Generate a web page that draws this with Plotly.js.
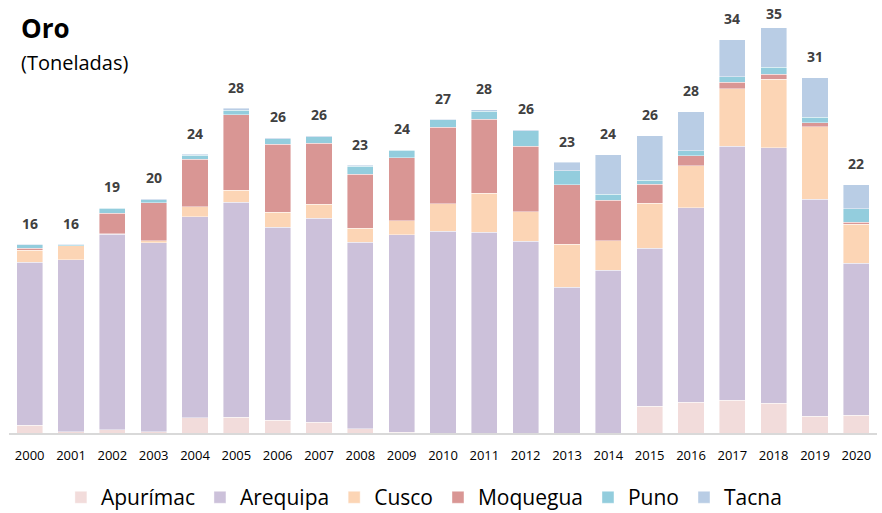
<!DOCTYPE html>
<html>
<head>
<meta charset="utf-8">
<script src="https://cdn.plot.ly/plotly-3.0.1.min.js"></script>
<style>html,body{margin:0;padding:0;background:#fff;}#chart{width:882px;height:513px;}</style>
</head>
<body>
<div id="chart"></div>
<script>
const years = ['2000','2001','2002','2003','2004','2005','2006','2007','2008','2009','2010','2011','2012','2013','2014','2015','2016','2017','2018','2019','2020'];
const apurimac = [0.65,0.13,0.3,0.13,1.31,1.37,1.11,0.93,0.36,0.05,0,0,0,0,0,2.32,2.64,2.81,2.58,1.43,1.54];
const arequipa = [14.1,14.84,16.87,16.3,17.37,18.56,16.68,17.63,16.13,17.1,17.44,17.36,16.58,12.6,14.07,13.66,16.85,21.98,22.07,18.78,13.14];
const cusco = [1.04,1.21,0.05,0.17,0.89,1.04,1.27,1.21,1.19,1.18,2.39,3.37,2.56,3.72,2.56,3.89,3.6,4.95,5.93,6.26,3.37];
const moquegua = [0.17,0,1.78,3.3,4.08,6.54,5.9,5.27,4.7,5.47,6.6,6.4,5.65,5.12,3.49,1.62,0.86,0.58,0.43,0.35,0.17];
const puno = [0.29,0.1,0.43,0.26,0.35,0.37,0.46,0.55,0.69,0.64,0.64,0.66,1.35,1.21,0.52,0.35,0.46,0.49,0.6,0.49,1.16];
const tacna = [0.05,0.03,0.05,0.09,0.09,0.17,0.11,0.09,0.09,0.05,0.05,0.15,0.05,0.75,3.4,3.86,3.37,3.2,3.4,3.4,2.08];
const totalLabels = [16,16,19,20,24,28,26,26,23,24,27,28,26,23,24,26,28,34,35,31,22];

const seriesNames = ['Apurímac','Arequipa','Cusco','Moquegua','Puno','Tacna'];
const seriesData = [apurimac, arequipa, cusco, moquegua, puno, tacna];
const seriesColors = ['#F2DCDB','#CCC1DA','#FCD5B5','#D99694','#93CDDD','#B9CDE5'];

const traces = seriesNames.map((name, i) => ({
  type: 'bar',
  name: name,
  x: years,
  y: seriesData[i],
  marker: {color: seriesColors[i], line: {color: 'rgba(255,255,255,0.7)', width: 0.6}},
  hoverinfo: 'x+y+name'
}));

const M = {l: 9, r: 5, t: 10, b: 80};
const H = 513;
const yMax = 36.56;
const plotH = H - M.t - M.b;

const stackTops = years.map((_, j) => seriesData.reduce((s, arr) => s + arr[j], 0));

const annotations = years.map((yr, j) => {
  const topPx = M.t + plotH * (1 - stackTops[j] / yMax);
  let shift = 21;
  if (topPx - shift < 14) shift = topPx - 14;
  return {
    x: j, y: stackTops[j], xref: 'x', yref: 'y',
    text: '<b>' + totalLabels[j] + '</b>',
    showarrow: false, yanchor: 'middle', yshift: shift,
    font: {family: 'Open Sans, sans-serif', size: 14, color: '#404040'}
  };
});

annotations.push({
  xref: 'paper', yref: 'paper', x: 0.011, y: 0.957, xanchor: 'left', yanchor: 'middle',
  text: '<b>Oro</b>', showarrow: false,
  font: {family: 'Open Sans, sans-serif', size: 26, color: '#000'}
});
annotations.push({
  xref: 'paper', yref: 'paper', x: 0.011, y: 0.877, xanchor: 'left', yanchor: 'middle',
  text: '(Toneladas)', showarrow: false,
  font: {family: 'Open Sans, sans-serif', size: 20, color: '#000'}
});

const layout = {
  width: 882, height: H,
  margin: M,
  paper_bgcolor: '#fff', plot_bgcolor: '#fff',
  barmode: 'stack',
  bargap: 0.37,
  showlegend: true,
  legend: {
    orientation: 'h', x: 0.478, xanchor: 'center',
    yref: 'container', y: 0.03, yanchor: 'middle',
    font: {family: 'Open Sans, sans-serif', size: 21, color: '#000'},
    traceorder: 'normal'
  },
  xaxis: {
    type: 'category', range: [-0.5, 20.5],
    showline: true, linecolor: '#D9D9D9', linewidth: 2,
    ticks: 'outside', ticklen: 9, tickcolor: 'rgba(0,0,0,0)',
    tickfont: {family: 'Open Sans, sans-serif', size: 13, color: '#000'},
    showgrid: false, zeroline: false, automargin: false
  },
  yaxis: {
    range: [0, yMax], visible: false, showgrid: false, zeroline: false
  },
  annotations: annotations
};

Plotly.newPlot('chart', traces, layout, {displayModeBar: false, staticPlot: true});
</script>
</body>
</html>
